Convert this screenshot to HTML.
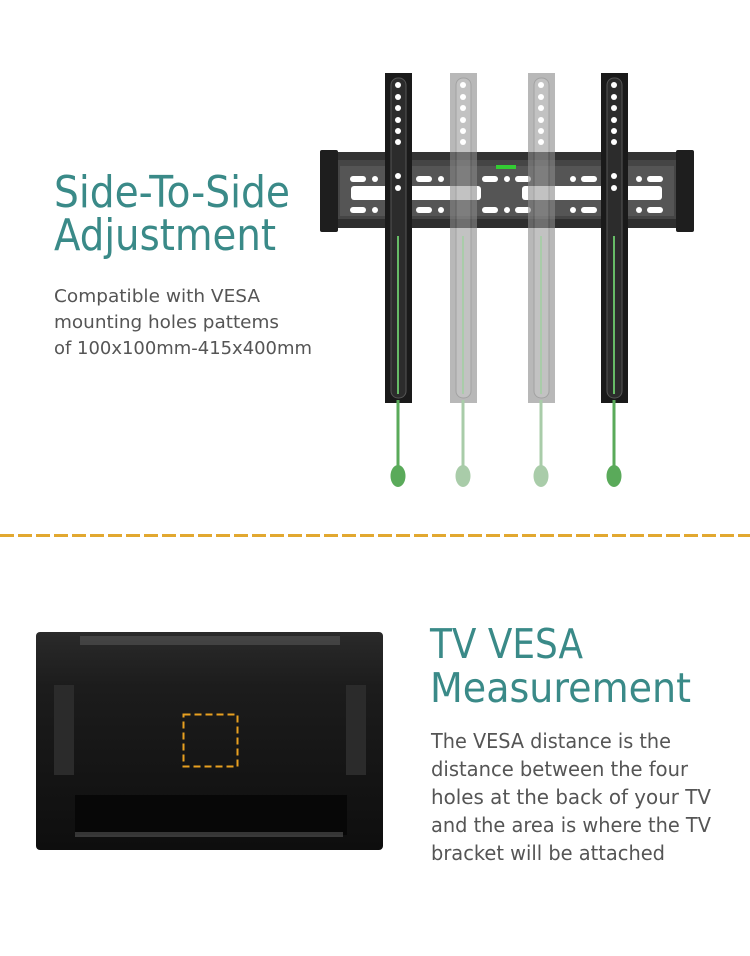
<!DOCTYPE html>
<html><head><meta charset="utf-8"><style>
html,body{margin:0;padding:0;background:#fff;}
svg{display:block;}
text{font-family:"DejaVu Sans","Liberation Sans",sans-serif;}
</style></head><body>
<svg width="750" height="956" viewBox="0 0 750 956" xmlns="http://www.w3.org/2000/svg">
<defs>
<linearGradient id="tvg" x1="0" y1="0" x2="0" y2="1">
<stop offset="0" stop-color="#2a2a2a"/><stop offset="0.25" stop-color="#1c1c1c"/><stop offset="1" stop-color="#0e0e0e"/>
</linearGradient>
</defs>
<g fill="#3a8a88">
<text x="54" y="207" font-size="44" textLength="236" lengthAdjust="spacingAndGlyphs">Side-To-Side</text>
<text x="54" y="250" font-size="44" textLength="222" lengthAdjust="spacingAndGlyphs">Adjustment</text>
<text x="430" y="658" font-size="41" textLength="153" lengthAdjust="spacingAndGlyphs">TV VESA</text>
<text x="430" y="702" font-size="41" textLength="261" lengthAdjust="spacingAndGlyphs">Measurement</text>
</g>
<g fill="#555" font-size="18">
<text x="54" y="302" textLength="206" lengthAdjust="spacingAndGlyphs">Compatible with VESA</text>
<text x="54" y="328" textLength="225" lengthAdjust="spacingAndGlyphs">mounting holes pattems</text>
<text x="54" y="354" textLength="258" lengthAdjust="spacingAndGlyphs">of 100x100mm-415x400mm</text>
</g>
<g fill="#555" font-size="20">
<text x="431" y="748" textLength="240" lengthAdjust="spacingAndGlyphs">The VESA distance is the</text>
<text x="431" y="776" textLength="257" lengthAdjust="spacingAndGlyphs">distance between the four</text>
<text x="431" y="804" textLength="280" lengthAdjust="spacingAndGlyphs">holes at the back of your TV</text>
<text x="431" y="832" textLength="280" lengthAdjust="spacingAndGlyphs">and the area is where the TV</text>
<text x="431" y="860" textLength="234" lengthAdjust="spacingAndGlyphs">bracket will be attached</text>
</g>
<line x1="0" y1="535.5" x2="750" y2="535.5" stroke="#e2a830" stroke-width="3" stroke-dasharray="14,4"/>

<rect x="336" y="152" width="342" height="76" fill="#454545"/>
<rect x="340" y="166" width="334" height="50" fill="#555"/>
<rect x="336" y="152" width="342" height="8" fill="#333"/>
<rect x="336" y="219" width="342" height="9" fill="#2e2e2e"/>
<rect x="320" y="150" width="18" height="82" rx="2" fill="#1e1e1e"/>
<rect x="676" y="150" width="18" height="82" rx="2" fill="#1e1e1e"/>
<g fill="#fff">
<rect x="350" y="176" width="16" height="6" rx="3"/><rect x="416" y="176" width="16" height="6" rx="3"/><rect x="482" y="176" width="16" height="6" rx="3"/><rect x="515" y="176" width="16" height="6" rx="3"/><rect x="581" y="176" width="16" height="6" rx="3"/><rect x="647" y="176" width="16" height="6" rx="3"/>
<circle cx="375" cy="179" r="3"/><circle cx="441" cy="179" r="3"/><circle cx="507" cy="179" r="3"/><circle cx="573" cy="179" r="3"/><circle cx="639" cy="179" r="3"/>
<rect x="350" y="207" width="16" height="6" rx="3"/><rect x="416" y="207" width="16" height="6" rx="3"/><rect x="482" y="207" width="16" height="6" rx="3"/><rect x="515" y="207" width="16" height="6" rx="3"/><rect x="581" y="207" width="16" height="6" rx="3"/><rect x="647" y="207" width="16" height="6" rx="3"/>
<circle cx="375" cy="210" r="3"/><circle cx="441" cy="210" r="3"/><circle cx="507" cy="210" r="3"/><circle cx="573" cy="210" r="3"/><circle cx="639" cy="210" r="3"/>
<rect x="351" y="186" width="130" height="14" rx="3"/><rect x="522" y="186" width="140" height="14" rx="3"/>
</g>
<rect x="496" y="165" width="20" height="4" fill="#3c3"/>

<g>
<rect x="385" y="73" width="27" height="330" fill="#1a1a1a"/>
<rect x="391" y="78" width="15" height="320" rx="7" fill="#2c2c2c" stroke="#555" stroke-width="1"/>
<line x1="398" y1="236" x2="398" y2="394" stroke="#6b6" stroke-width="2"/>
</g>
<g opacity="0.6">
<rect x="450" y="73" width="27" height="330" fill="#8a8a8a"/>
<rect x="456" y="78" width="15" height="320" rx="7" fill="#9a9a9a" stroke="#666" stroke-width="1"/>
<rect x="528" y="73" width="27" height="330" fill="#8a8a8a"/>
<rect x="534" y="78" width="15" height="320" rx="7" fill="#9a9a9a" stroke="#666" stroke-width="1"/>
</g>
<line x1="463" y1="236" x2="463" y2="394" stroke="#a9cca9" stroke-width="2"/>
<line x1="541" y1="236" x2="541" y2="394" stroke="#a9cca9" stroke-width="2"/>
<g>
<rect x="601" y="73" width="27" height="330" fill="#1a1a1a"/>
<rect x="607" y="78" width="15" height="320" rx="7" fill="#2c2c2c" stroke="#555" stroke-width="1"/>
<line x1="614" y1="236" x2="614" y2="394" stroke="#6b6" stroke-width="2"/>
</g>
<g fill="#fff">
<circle cx="398" cy="85" r="3"/><circle cx="398" cy="97" r="3"/><circle cx="398" cy="108" r="3"/><circle cx="398" cy="120" r="3"/><circle cx="398" cy="131" r="3"/><circle cx="398" cy="142" r="3"/><circle cx="398" cy="176" r="3"/><circle cx="398" cy="188" r="3"/>
<circle cx="614" cy="85" r="3"/><circle cx="614" cy="97" r="3"/><circle cx="614" cy="108" r="3"/><circle cx="614" cy="120" r="3"/><circle cx="614" cy="131" r="3"/><circle cx="614" cy="142" r="3"/><circle cx="614" cy="176" r="3"/><circle cx="614" cy="188" r="3"/>
<circle cx="463" cy="85" r="3"/><circle cx="463" cy="97" r="3"/><circle cx="463" cy="108" r="3"/><circle cx="463" cy="120" r="3"/><circle cx="463" cy="131" r="3"/><circle cx="463" cy="142" r="3"/>
<circle cx="541" cy="85" r="3"/><circle cx="541" cy="97" r="3"/><circle cx="541" cy="108" r="3"/><circle cx="541" cy="120" r="3"/><circle cx="541" cy="131" r="3"/><circle cx="541" cy="142" r="3"/>
</g>
<g stroke-width="3">
<line x1="398" y1="400" x2="398" y2="468" stroke="#5aaa5a"/>
<line x1="463" y1="400" x2="463" y2="468" stroke="#a9cca9"/>
<line x1="541" y1="400" x2="541" y2="468" stroke="#a9cca9"/>
<line x1="614" y1="400" x2="614" y2="468" stroke="#5aaa5a"/>
</g>
<ellipse cx="398" cy="476" rx="7.5" ry="11" fill="#5aaa5a"/>
<ellipse cx="463" cy="476" rx="7.5" ry="11" fill="#a9cca9"/>
<ellipse cx="541" cy="476" rx="7.5" ry="11" fill="#a9cca9"/>
<ellipse cx="614" cy="476" rx="7.5" ry="11" fill="#5aaa5a"/>

<rect x="36" y="632" width="347" height="218" rx="4" fill="url(#tvg)"/>
<rect x="80" y="636" width="260" height="9" fill="#555" opacity="0.6"/>
<rect x="54" y="685" width="20" height="90" fill="#2b2b2b"/>
<rect x="346" y="685" width="20" height="90" fill="#2b2b2b"/>
<rect x="75" y="795" width="272" height="40" fill="#070707"/>
<rect x="75" y="832" width="268" height="5" fill="#555" opacity="0.6"/>
<rect x="183.5" y="714.5" width="54" height="52" fill="none" stroke="#e8a020" stroke-width="2" stroke-dasharray="7,4"/>
</svg>
</body></html>
